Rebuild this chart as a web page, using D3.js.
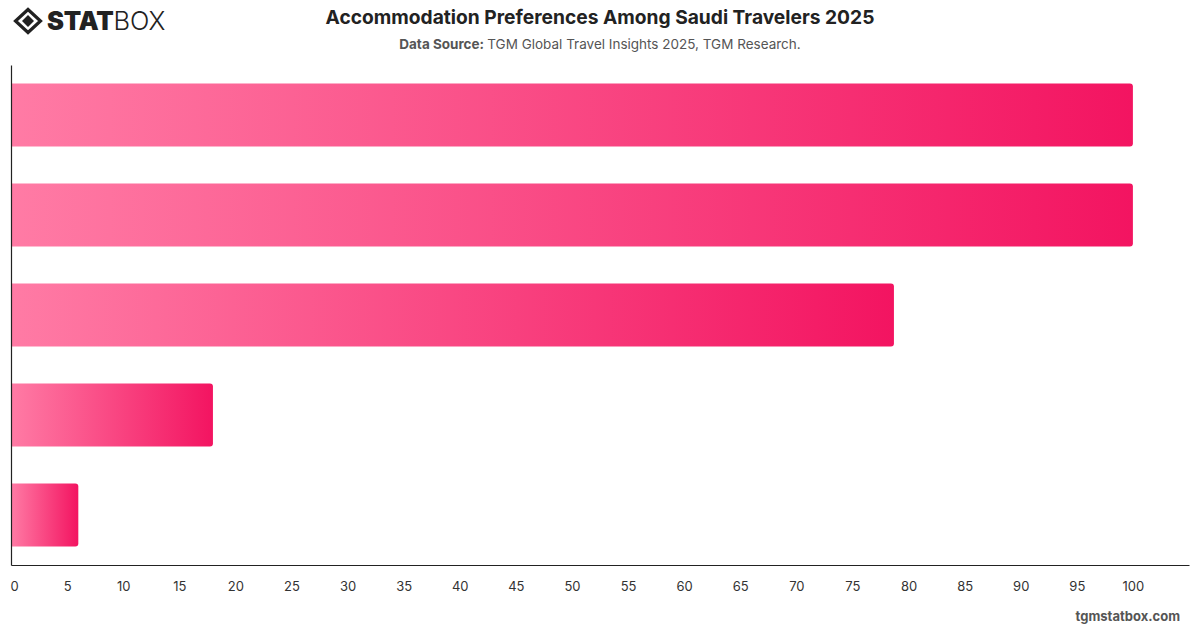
<!DOCTYPE html>
<html>
<head>
<meta charset="utf-8">
<script src="https://cdn.jsdelivr.net/npm/d3@7"></script>
<style>
  body { margin: 0; background: #fff; }
  svg { display: block; font-family: Inter, "Liberation Sans", sans-serif; }
</style>
</head>
<body>
<svg id="chart" width="1200" height="628"></svg>
<script>
// Data (category labels are not shown on the chart)
const categories = ["Hotels", "Resorts", "Apartments", "Hostels", "Camping"];
const values = [100, 100, 78.7, 18, 6];
const tickValues = d3.range(0, 101, 5);

const width = 1200, height = 628;
const margin = { top: 65, right: 11, bottom: 63, left: 11 };

const svg = d3.select("#chart");

// Gradient for the bars:
const defs = svg.append("defs");
const grad = defs.append("linearGradient")
    .attr("id", "barGrad")
    .attr("x1", "0%").attr("x2", "100%").attr("y1", "0%").attr("y2", "0%");
grad.append("stop").attr("offset", "0%").attr("stop-color", "#ff7ba5");
grad.append("stop").attr("offset", "100%").attr("stop-color", "#f31461");

// Scales
const x = d3.scaleLinear()
    .domain([0, 105])
    .range([margin.left, width - margin.right]);

const y = d3.scaleBand()
    .domain(categories)
    .range([margin.top, height - margin.bottom])
    .paddingInner(0.37)
    .paddingOuter(0.185);

// Bars, rounded only on the right end
const r = 3;
svg.append("g").selectAll("path")
    .data(categories.map((c, i) => ({ cat: c, value: values[i] })))
    .join("path")
    .attr("fill", "url(#barGrad)")
    .attr("d", d => {
        const x0 = x(0), x1 = x(d.value), y0 = y(d.cat), h = y.bandwidth();
        return `M${x0},${y0} H${x1 - r} Q${x1},${y0} ${x1},${y0 + r} ` +
               `V${y0 + h - r} Q${x1},${y0 + h} ${x1 - r},${y0 + h} H${x0} Z`;
    });

// Axes
const xAxis = svg.append("g")
    .attr("transform", `translate(0,${height - margin.bottom})`)
    .call(d3.axisBottom(x).tickValues(tickValues).tickSize(0).tickPadding(17));
xAxis.select(".domain").attr("stroke", "#222").attr("stroke-width", 1.2);
xAxis.selectAll("text")
    .attr("font-size", 13)
    .attr("fill", "#333")
    .attr("font-family", "Inter, sans-serif")
    .attr("dx", d => d === 0 ? 3 : 0);

const yAxis = svg.append("g")
    .attr("transform", `translate(${margin.left},0)`)
    .call(d3.axisLeft(y).tickSize(0).tickFormat(""));
yAxis.select(".domain").attr("stroke", "#222").attr("stroke-width", 1.2);

// Title & subtitle
svg.append("text")
    .attr("x", 600).attr("y", 24)
    .attr("text-anchor", "middle")
    .attr("font-size", 19.2).attr("font-weight", 700)
    .attr("fill", "#222")
    .text("Accommodation Preferences Among Saudi Travelers 2025");

const sub = svg.append("text")
    .attr("x", 600).attr("y", 49)
    .attr("text-anchor", "middle")
    .attr("font-size", 13.5)
    .attr("fill", "#555");
sub.append("tspan").attr("font-weight", 700).text("Data Source: ");
sub.append("tspan").text("TGM Global Travel Insights 2025, TGM Research.");

// Logo
const logo = svg.append("g").attr("transform", "translate(28,21)");
logo.append("path")
    .attr("d", "M0,-11.5 L12.5,0 L0,11.5 L-12.5,0 Z")
    .attr("fill", "none").attr("stroke", "#222").attr("stroke-width", 3.2);
logo.append("path")
    .attr("d", "M0,-6 L6,0 L0,6 L-6,0 Z")
    .attr("fill", "#222");
svg.append("text")
    .attr("x", 47).attr("y", 30)
    .attr("font-size", 25.5).attr("font-weight", 900)
    .attr("fill", "#222")
    .attr("letter-spacing", -0.3)
    .text("STAT")
  .append("tspan")
    .attr("font-weight", 300)
    .attr("letter-spacing", 0)
    .text("BOX");

// Watermark
svg.append("text")
    .attr("x", 1180).attr("y", 621)
    .attr("text-anchor", "end")
    .attr("font-size", 13).attr("font-weight", 700)
    .attr("fill", "#555")
    .text("tgmstatbox.com");
</script>
</body>
</html>
